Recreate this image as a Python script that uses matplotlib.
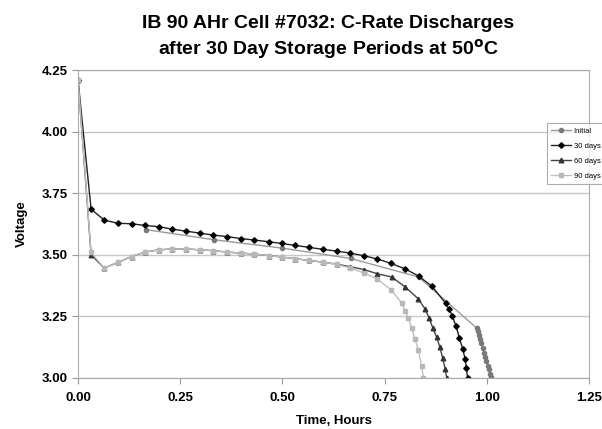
import matplotlib.pyplot as plt

# hours / volts
t_initial = [0.167, 0.333, 0.5, 0.667, 0.833, 0.975, 0.978, 0.981, 0.984, 0.987,
             0.990, 0.993, 0.996, 0.999, 1.002, 1.005, 1.008, 1.010]
v_initial = [3.602, 3.561, 3.527, 3.485, 3.41, 3.203, 3.19, 3.175, 3.158, 3.14,
             3.12, 3.10, 3.085, 3.068, 3.05, 3.035, 3.018, 3.005]

t_30 = [0, 0.032, 0.064, 0.097, 0.131, 0.164, 0.198, 0.231, 0.264, 0.298, 0.331,
        0.364, 0.398, 0.431, 0.466, 0.498, 0.532, 0.566, 0.599, 0.633, 0.665, 0.70,
        0.732, 0.766, 0.80, 0.833, 0.866, 0.899, 0.908, 0.916, 0.925, 0.933, 0.941,
        0.947, 0.950, 0.953]
v_30 = [4.21, 3.685, 3.641, 3.628, 3.626, 3.619, 3.614, 3.604, 3.596, 3.588, 3.580,
        3.574, 3.566, 3.560, 3.553, 3.546, 3.538, 3.530, 3.522, 3.515, 3.507, 3.496,
        3.483, 3.465, 3.443, 3.414, 3.372, 3.304, 3.279, 3.25, 3.209, 3.162, 3.118,
        3.077, 3.041, 3.00]

t_60 = [0, 0.032, 0.064, 0.099, 0.131, 0.164, 0.198, 0.231, 0.264, 0.298, 0.331,
        0.364, 0.398, 0.431, 0.466, 0.498, 0.532, 0.566, 0.599, 0.633, 0.665, 0.70,
        0.732, 0.767, 0.80, 0.832, 0.849, 0.859, 0.868, 0.877, 0.885, 0.892, 0.898,
        0.902]
v_60 = [4.21, 3.50, 3.446, 3.47, 3.493, 3.511, 3.520, 3.524, 3.524, 3.520, 3.517,
        3.511, 3.507, 3.503, 3.497, 3.491, 3.484, 3.477, 3.470, 3.462, 3.452, 3.440,
        3.423, 3.41, 3.37, 3.322, 3.28, 3.243, 3.203, 3.167, 3.126, 3.081, 3.038,
        3.00]

t_90 = [0, 0.032, 0.064, 0.099, 0.131, 0.164, 0.198, 0.231, 0.264, 0.298, 0.331,
        0.364, 0.398, 0.431, 0.466, 0.498, 0.532, 0.566, 0.599, 0.633, 0.665, 0.70,
        0.732, 0.766, 0.792, 0.80, 0.808, 0.816, 0.824, 0.832, 0.841, 0.845]
v_90 = [4.21, 3.51, 3.446, 3.47, 3.493, 3.511, 3.520, 3.524, 3.524, 3.520, 3.517,
        3.511, 3.507, 3.503, 3.497, 3.491, 3.484, 3.477, 3.470, 3.461, 3.447, 3.426,
        3.401, 3.358, 3.304, 3.272, 3.243, 3.203, 3.16, 3.115, 3.048, 3.00]

x_ticks = [0.00, 0.25, 0.50, 0.75, 1.00, 1.25]
y_ticks = [3.00, 3.25, 3.50, 3.75, 4.00, 4.25]


def plotter():
    plt.rcParams['font.family'] = ['Liberation Sans', 'DejaVu Sans']
    fig = plt.figure(figsize=(6.02, 4.29), dpi=100)
    ax = fig.add_axes([0.1296, 0.1189, 0.8488, 0.7179])

    ax.plot(t_initial, v_initial, color='#9a9a9a', lw=1, marker='o', ms=3,
            mfc='#7a7a7a', mec='#7a7a7a', label='Initial')
    ax.plot(t_30, v_30, color='#222222', lw=1, marker='D', ms=2.8,
            mfc='black', mec='black', label='30 days')
    ax.plot(t_60, v_60, color='#444444', lw=1, marker='^', ms=3.3,
            mfc='#333333', mec='#333333', label='60 days')
    ax.plot(t_90, v_90, color='#c0c0c0', lw=1, marker='s', ms=3,
            mfc='#b8b8b8', mec='#b8b8b8', label='90 days')

    ax.set_xlim(0, 1.25)
    ax.set_ylim(3.0, 4.25)
    ax.set_xticks(x_ticks)
    ax.set_yticks(y_ticks)
    ax.set_xticklabels([f'{x:.2f}' for x in x_ticks], fontsize=9.5, fontweight='bold')
    ax.set_yticklabels([f'{y:.2f}' for y in y_ticks], fontsize=9.5, fontweight='bold')
    ax.tick_params(axis='x', direction='out', length=4, color='#999999', pad=6)
    ax.tick_params(axis='y', direction='out', length=4, color='#999999')
    ax.grid(axis='y', color='#c8c8c8', lw=1)
    ax.set_axisbelow(True)
    for side in ['left', 'bottom', 'right', 'top']:
        ax.spines[side].set_color('#aaaaaa')

    ax.set_xlabel('Time, Hours', fontsize=9.5, fontweight='bold', labelpad=8)
    ax.set_ylabel('Voltage', fontsize=9.5, fontweight='bold', labelpad=10)

    fig.text(0.545, 0.945, 'IB 90 AHr Cell #7032: C-Rate Discharges',
             ha='center', va='center', fontsize=14, fontweight='bold')
    fig.text(0.545, 0.885, 'after 30 Day Storage Periods at 50$^{\\mathbf{o}}$C',
             ha='center', va='center', fontsize=14, fontweight='bold')

    leg = fig.legend(loc='upper left', bbox_to_anchor=(0.902, 0.723), fontsize=5.5,
                     frameon=True, fancybox=False, edgecolor='#999999',
                     handlelength=2.5, borderpad=0.6, labelspacing=1.0,
                     handletextpad=0.4)
    leg.get_frame().set_linewidth(0.8)

    fig.savefig('out.png', dpi=100)


if __name__ == '__main__':
    plotter()
